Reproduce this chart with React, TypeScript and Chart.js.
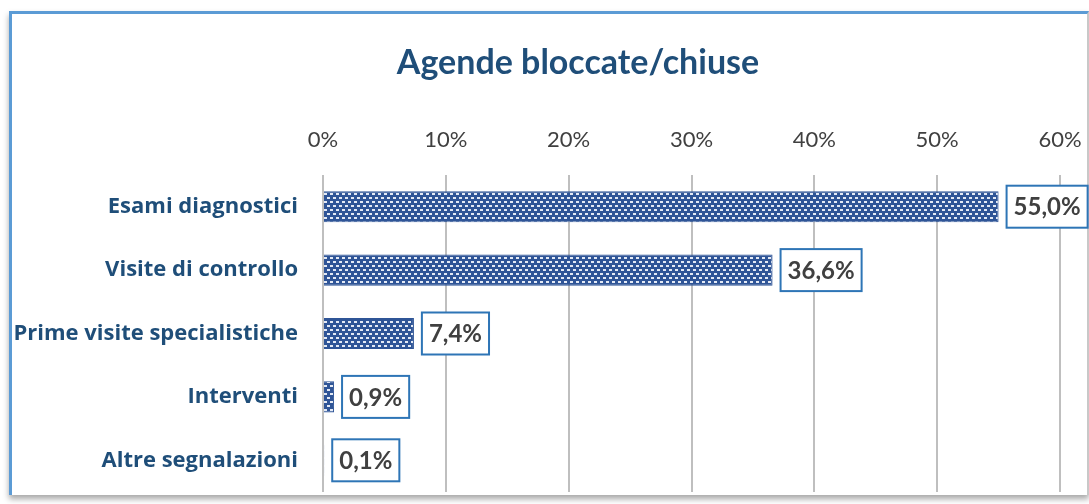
import React, { useEffect, useRef } from "react";
import { Chart, registerables } from "chart.js";

Chart.register(...registerables);

const titleText = "Agende bloccate/chiuse";
const categories = [
  "Esami diagnostici",
  "Visite di controllo",
  "Prime visite specialistiche",
  "Interventi",
  "Altre segnalazioni",
];
const values = [0.55, 0.366, 0.074, 0.009, 0.001];
const xMin = 0;
const xMax = 0.6;
const xStep = 0.1;

const FONT = "Lato, 'Open Sans', 'DejaVu Sans', sans-serif";
const CAT_FONT = "'Open Sans', Lato, 'DejaVu Sans', sans-serif";
const BLUE_TEXT = "#1F4E79";
const GREY_TEXT = "#404040";

const TITLE_SIZE = 34;
const TITLE_PAD_TOP = 43;
const TITLE_PAD_BOTTOM = 10;
const PLOT_TOP = 175;
const PLOT_LEFT = 323;
const TITLE_SHIFT = 48;

function makePattern(): CanvasPattern | string {
  const c = document.createElement("canvas");
  c.width = 6;
  c.height = 8;
  const g = c.getContext("2d");
  if (!g) return "#2F5597";
  g.fillStyle = "#2F5597";
  g.fillRect(0, 0, 6, 8);
  g.fillStyle = "#E4EAF5";
  g.fillRect(0, 1, 3, 2);
  g.fillRect(3, 5, 3, 2);
  const p = g.createPattern(c, "repeat");
  return p || "#2F5597";
}

const fmtPct = (v: number) => (v * 100).toFixed(1).replace(".", ",") + "%";

const titleShiftPlugin = {
  id: "titleShift",
  afterLayout(chart: any) {
    const tb = chart.titleBlock;
    if (tb) {
      tb.left += TITLE_SHIFT;
      tb.right += TITLE_SHIFT;
    }
  },
};

const labelPlugin = {
  id: "boxLabels",
  afterDatasetsDraw(chart: any) {
    const ctx = chart.ctx as CanvasRenderingContext2D;
    const meta = chart.getDatasetMeta(0);
    ctx.save();
    ctx.font = `bold 24px ${FONT}`;
    ctx.textBaseline = "middle";
    ctx.textAlign = "center";
    meta.data.forEach((bar: any, i: number) => {
      const txt = fmtPct(values[i]);
      const w = ctx.measureText(txt).width + 14;
      const h = 42;
      const left = bar.x + 8;
      const top = bar.y - h / 2;
      ctx.fillStyle = "#FFFFFF";
      ctx.fillRect(left, top, w, h);
      ctx.lineWidth = 2;
      ctx.strokeStyle = "#2E75B6";
      ctx.strokeRect(left, top, w, h);
      ctx.fillStyle = GREY_TEXT;
      ctx.fillText(txt, left + w / 2, bar.y + 1);
    });
    ctx.restore();
  },
};

export default function App() {
  const ref = useRef<HTMLCanvasElement | null>(null);

  useEffect(() => {
    if (!ref.current) return;
    const pattern = makePattern();
    const chart = new Chart(ref.current, {
      type: "bar",
      data: {
        labels: categories,
        datasets: [
          {
            data: values,
            backgroundColor: pattern as any,
            borderColor: "#2F5597",
            borderWidth: 1,
            categoryPercentage: 1,
            barPercentage: 0.49,
          },
        ],
      },
      options: {
        indexAxis: "y",
        responsive: false,
        animation: false,
        layout: { padding: { left: 0, right: 1089 - 1060, top: 0, bottom: 504 - 492 } },
        plugins: {
          legend: { display: false },
          tooltip: { enabled: false },
          title: {
            display: true,
            text: titleText,
            color: BLUE_TEXT,
            font: { family: FONT, size: TITLE_SIZE, weight: "bold", lineHeight: 1.2 },
            padding: { top: TITLE_PAD_TOP, bottom: TITLE_PAD_BOTTOM },
          },
        },
        scales: {
          x: {
            position: "top",
            min: xMin,
            max: xMax,
            grid: { color: "#BFBFBF", lineWidth: 2, drawTicks: false },
            border: { display: false },
            ticks: {
              stepSize: xStep,
              padding: 22,
              color: GREY_TEXT,
              font: { family: FONT, size: 22, lineHeight: 1.2 },
              callback: (v: any) => Math.round(Number(v) * 100) + "%",
            },
            afterFit: (s: any) => {
              s.height = PLOT_TOP - (TITLE_PAD_TOP + TITLE_SIZE * 1.2 + TITLE_PAD_BOTTOM);
              s.paddingLeft = 0;
              s.paddingRight = 0;
              s.paddingTop = 0;
              s.paddingBottom = 0;
            },
          },
          y: {
            grid: { display: false, drawTicks: false },
            border: { display: false },
            ticks: {
              padding: 25,
              color: BLUE_TEXT,
              font: { family: CAT_FONT, size: 22, weight: "bold" },
            },
            afterFit: (s: any) => {
              s.width = PLOT_LEFT;
              s.paddingLeft = 0;
              s.paddingRight = 0;
              s.paddingTop = 0;
              s.paddingBottom = 0;
            },
          },
        },
      },
      plugins: [titleShiftPlugin, labelPlugin],
    });
    return () => chart.destroy();
  }, []);

  return (
    <div style={{ position: "fixed", left: 0, top: 0, width: 1089, height: 504, background: "#FFFFFF", overflow: "hidden" }}>
      <div
        style={{
          position: "absolute",
          left: 9,
          top: 11,
          width: 1075,
          height: 481,
          borderLeft: "3px solid #5B9BD5",
          borderTop: "3px solid #5B9BD5",
          borderRight: "2px solid #C8C8C8",
          boxShadow: "0 4px 6px rgba(0,0,0,0.35)",
          background: "#FFFFFF",
        }}
      />
      <canvas ref={ref} width={1089} height={504} style={{ position: "absolute", left: 0, top: 0 }} />
    </div>
  );
}
